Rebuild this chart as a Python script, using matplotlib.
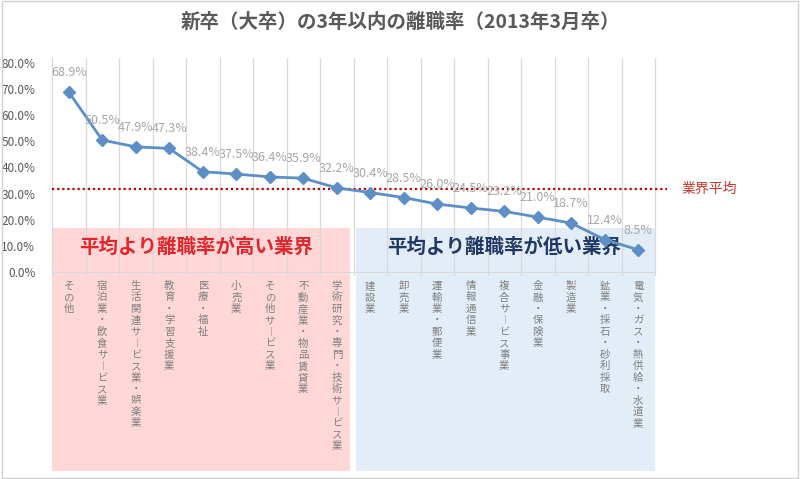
import matplotlib
matplotlib.use('Agg')
import matplotlib.pyplot as plt
import matplotlib.transforms as mtransforms
from matplotlib.patches import Rectangle

plt.rcParams['font.family'] = ['Noto Sans CJK JP', 'DejaVu Sans']

# data
industries = ['その他', '宿泊業・飲食サービス業', '生活関連サービス業・娯楽業', '教育・学習支援業',
              '医療・福祉', '小売業', 'その他サービス業', '不動産業・物品賃貸業',
              '学術研究・専門・技術サービス業', '建設業', '卸売業', '運輸業・郵便業',
              '情報通信業', '複合サービス事業', '金融・保険業', '製造業',
              '鉱業・採石・砂利採取', '電気・ガス・熱供給・水道業']
rates = [68.9, 50.5, 47.9, 47.3, 38.4, 37.5, 36.4, 35.9, 32.2,
         30.4, 28.5, 26.0, 24.5, 23.2, 21.0, 18.7, 12.4, 8.5]
average = 31.9
yticks = [0, 10, 20, 30, 40, 50, 60, 70, 80]
n_high = 9

W, H = 800, 479
fig = plt.figure(figsize=(W / 100, H / 100), dpi=100)
ax = fig.add_axes([52 / W, 1 - 272 / H, 603 / W, 209 / H])
ax.patch.set_visible(False)

x = list(range(len(rates)))
ax.set_xlim(-0.5, len(rates) - 0.5)
ax.set_ylim(0, 80)

# vertical gridlines between categories
for b in range(len(rates) + 1):
    ax.plot([b - 0.5, b - 0.5], [-1.3, 82], color='#d9d9d9', lw=0.9, clip_on=False, zorder=1)

for s in ['top', 'right', 'left']:
    ax.spines[s].set_visible(False)
ax.spines['bottom'].set_color('#d9d9d9')

ax.set_yticks(yticks)
ax.set_yticklabels(['{0:.1f}%'.format(v) for v in yticks], fontsize=8.5, color='#595959')
ax.tick_params(axis='y', length=0, pad=12)
ax.set_xticks([])

# colour boxes behind everything
trans = mtransforms.blended_transform_factory(ax.transData, fig.transFigure)
y0 = 1 - 471 / H
y1 = 1 - 228 / H
ax.add_patch(Rectangle((-0.5, y0), n_high - 0.1, y1 - y0, transform=trans,
                       facecolor='#ffd7d7', edgecolor='none', zorder=0, clip_on=False))
ax.add_patch(Rectangle((n_high - 0.43, y0), len(rates) - n_high - 0.07, y1 - y0, transform=trans,
                       facecolor='#e3edf8', edgecolor='none', zorder=0, clip_on=False))
ax.text((n_high - 1.4) / 2, 1 - 247 / H, '平均より離職率が高い業界', transform=trans,
        ha='center', va='center', fontsize=14, fontweight='bold', color='#e0262b', zorder=3)
ax.text((n_high + len(rates) - 1) / 2, 1 - 247 / H, '平均より離職率が低い業界', transform=trans,
        ha='center', va='center', fontsize=14, fontweight='bold', color='#1f3864', zorder=3)

# average line
ax.plot([-0.5, len(rates) - 0.15], [average, average], color='#c00000', lw=1.6,
        linestyle=(0, (1, 1.3)), clip_on=False, zorder=4)
ax.text(len(rates) + 0.3, average, '業界平均', ha='left', va='center',
        fontsize=10, color='#c0392b')

# main line
ax.plot(x, rates, color='#5b8fc6', lw=2, marker='D', markersize=6, zorder=5)
for xi, v in zip(x, rates):
    ax.annotate('{0:.1f}%'.format(v), (xi, v), xytext=(0, 14), textcoords='offset points',
                ha='center', va='center', fontsize=9, color='#a6a6a6', zorder=6)

# vertical category labels
for xi, name in zip(x, industries):
    vert = '\n'.join(name.replace('ー', '︱'))
    ax.text(xi, 1 - 281 / H, vert, transform=trans, ha='center', va='top',
            fontsize=7.5, color='#7f7f7f', linespacing=1.18)

fig.text(0.5, 1 - 22 / H, '新卒（大卒）の3年以内の離職率（2013年3月卒）', ha='center', va='center',
         fontsize=14, fontweight='bold', color='#595959')

fig.add_artist(Rectangle((0.002, 0.003), 0.995, 0.994, transform=fig.transFigure,
                         facecolor='none', edgecolor='#d0d0d0', lw=1))

fig.savefig('out.png', dpi=100)
